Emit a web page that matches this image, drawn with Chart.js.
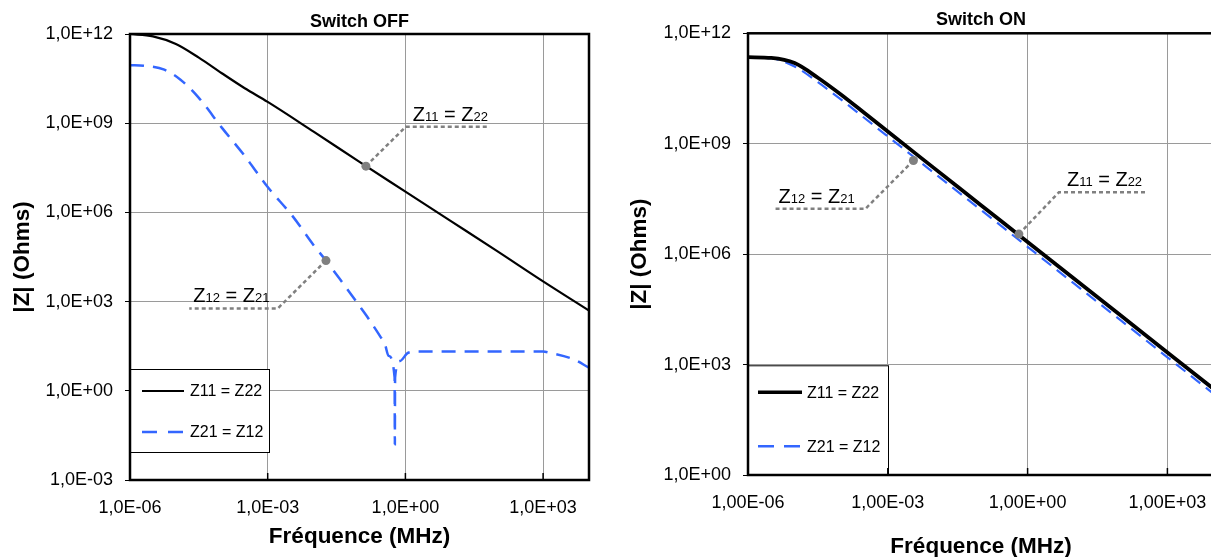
<!DOCTYPE html>
<html>
<head>
<meta charset="utf-8">
<script src="https://cdn.jsdelivr.net/npm/chart.js@4.4.0/dist/chart.umd.min.js"></script>
<style>
  html, body { margin: 0; padding: 0; background: #fff; overflow: hidden; width: 1211px; height: 557px; }
  canvas { position: absolute; top: 0; }
  #offChart { left: 0; }
  #onChart { left: 600px; }
</style>
</head>
<body>
<canvas id="offChart" width="605" height="570"></canvas>
<canvas id="onChart" width="630" height="570"></canvas>
<script>
const FONT = "'Liberation Sans', Arial, sans-serif";

// ---- Switch OFF ----
const offFreqZ11 = [1e-6, 3.16e-6, 1e-5, 3.16e-5, 1e-4, 3.16e-4, 1e-3, 1e-2, 1e-1, 1, 10, 100, 1000, 10000];
const offZ11     = [1e12, 8.3e11, 4.6e11, 1.6e11, 4.8e10, 1.5e10, 5.2e9, 5.2e8, 5.0e7, 5.0e6, 5.0e5, 5.0e4, 4.8e3, 5.0e2];
const offFreqZ21 = [1e-6, 2.0e-6, 5.6e-6, 1.26e-5, 3.16e-5, 1e-4, 3.16e-4, 1e-3, 3.55e-3, 1e-2, 1.86e-2, 3.8e-2,
                    0.1, 0.145, 0.28, 0.36, 0.43, 0.582, 0.589, 0.596, 0.76, 1.15, 2.0, 10, 100, 1000, 1410, 4570, 10000];
const offZ21     = [8.9e10, 8.5e10, 6.3e10, 2.9e10, 7.1e9, 7.1e8, 7.9e7, 7.1e6, 7.2e5, 7.9e4, 2.4e4, 5.5e3,
                    7.1e2, 3.2e2, 69, 36, 15, 2.8, 0.016, 2.8, 10, 19, 21, 21, 21, 21, 19, 11.5, 6.0];
const offXTicks  = [1e-6, 1e-3, 1, 1e3];
const offXLabels = ['1,0E-06', '1,0E-03', '1,0E+00', '1,0E+03'];
const offYTicks  = [1e-3, 1, 1e3, 1e6, 1e9, 1e12];
const offYLabels = ['1,0E-03', '1,0E+00', '1,0E+03', '1,0E+06', '1,0E+09', '1,0E+12'];
// callouts: point on curve, elbow, end of leader
const offCallZ11F = [0.138, 1.02, 69];
const offCallZ11Z = [3.6e7, 7.6e8, 7.6e8];
const offCallZ12F = [0.0186, 1.66e-3, 1.95e-5];
const offCallZ12Z = [2.4e4, 589, 589];

// ---- Switch ON ----
const onFreq = [1e-6, 3.16e-6, 1e-5, 3.16e-5, 1e-4, 3.16e-4, 1e-3, 1e-2, 1e-1, 1, 10, 100, 1000, 10000];
const onZ11  = [2.24e11, 2.14e11, 1.55e11, 6.2e10, 2.14e10, 6.8e9, 2.14e9, 2.14e8, 2.14e7, 2.14e6, 2.14e5, 2.14e4, 2.14e3, 2.14e2];
const onZ21  = [2.24e11, 2.1e11, 1.26e11, 4.7e10, 1.58e10, 5.0e9, 1.58e9, 1.58e8, 1.58e7, 1.58e6, 1.58e5, 1.58e4, 1.58e3, 1.58e2];
const onXTicks  = [1e-6, 1e-3, 1, 1e3];
const onXLabels = ['1,00E-06', '1,00E-03', '1,00E+00', '1,00E+03'];
const onYTicks  = [1, 1e3, 1e6, 1e9, 1e12];
const onYLabels = ['1,0E+00', '1,0E+03', '1,0E+06', '1,0E+09', '1,0E+12'];
const onCallZ12F = [3.55e-3, 3.3e-4, 3.9e-6];
const onCallZ12Z = [3.5e8, 1.7e7, 1.7e7];
const onCallZ11F = [0.65, 4.7, 339];
const onCallZ11Z = [3.5e6, 4.8e7, 4.8e7];

const BLUE = '#3366ff';
const GRAY = '#808080';

const pts = (xs, ys) => xs.map((x, i) => ({ x: x, y: ys[i] }));

function drawCalloutText(ctx, x, y, a, b) {
  const big = '20px ' + FONT, small = '13px ' + FONT;
  const parts = [['Z', big], [a, small], [' = ', big], ['Z', big], [b, small]];
  ctx.fillStyle = '#000';
  ctx.textAlign = 'left';
  ctx.textBaseline = 'alphabetic';
  for (const [t, f] of parts) {
    ctx.font = f;
    ctx.fillText(t, x, y);
    x += ctx.measureText(t).width;
  }
}

// legend box, frame, inner x ticks and callout labels
const framePlugin = {
  id: 'frame',
  afterDatasetsDraw(chart, args, o) {
    const ctx = chart.ctx, a = chart.chartArea;
    const xs = chart.scales.x, ys = chart.scales.y;
    ctx.save();

    // legend
    const L = o.legend;
    const bx = a.left + L.x, by = a.top + L.y;
    const bh = L.h || (a.bottom - by);
    ctx.fillStyle = '#fff';
    ctx.fillRect(bx, by, L.w, bh);
    ctx.strokeStyle = '#000';
    ctx.lineWidth = 1;
    ctx.strokeRect(bx + 0.5, by + 0.5, L.w, bh);
    const items = [
      { text: 'Z11 = Z22', color: '#000', width: L.w11, dash: [] },
      { text: 'Z21 = Z12', color: BLUE, width: 2.5, dash: L.dash }
    ];
    items.forEach((it, i) => {
      const y = by + L.rows[i];
      ctx.beginPath();
      ctx.setLineDash(it.dash);
      ctx.strokeStyle = it.color;
      ctx.lineWidth = it.width;
      ctx.moveTo(bx + L.s0, y);
      ctx.lineTo(bx + L.s1, y);
      ctx.stroke();
      ctx.setLineDash([]);
      ctx.fillStyle = '#000';
      ctx.font = '16px ' + FONT;
      ctx.textAlign = 'left';
      ctx.textBaseline = 'middle';
      ctx.fillText(it.text, bx + L.tx, y + 1);
    });

    // inward tick marks on the bottom axis
    ctx.strokeStyle = '#000';
    ctx.lineWidth = 1.5;
    xs.ticks.forEach(t => {
      const px = xs.getPixelForValue(t.value);
      if (px <= a.left + 2) return;
      ctx.beginPath();
      ctx.moveTo(px, a.bottom);
      ctx.lineTo(px, a.bottom - 7);
      ctx.stroke();
    });

    // plot frame
    ctx.lineWidth = 2.5;
    ctx.strokeRect(a.left, a.top, a.right - a.left, a.bottom - a.top);

    // callout labels above the horizontal part of each leader
    o.callouts.forEach(c => {
      const ds = chart.data.datasets[c.ds].data;
      const x0 = Math.min(xs.getPixelForValue(ds[1].x), xs.getPixelForValue(ds[2].x));
      const y0 = ys.getPixelForValue(ds[1].y);
      drawCalloutText(ctx, x0 + c.dx, y0 - 6, c.a, c.b);
    });
    ctx.restore();
  }
};

function buildChart(id, o) {
  const callDs = o.calls.map(c => ({
    data: pts(c.f, c.z),
    borderColor: GRAY,
    borderWidth: 2.5,
    borderDash: [4, 3],
    pointRadius: [4.5, 0, 0],
    pointBackgroundColor: GRAY,
    pointBorderWidth: 0,
    tension: 0,
    order: 0
  }));
  return new Chart(document.getElementById(id), {
    type: 'line',
    data: {
      datasets: [
        { data: pts(o.f11, o.z11), borderColor: '#000', borderWidth: o.w11, pointRadius: 0,
          cubicInterpolationMode: 'monotone', order: 1 },
        { data: pts(o.f21, o.z21), borderColor: BLUE, borderWidth: o.w21, borderDash: o.dash21, pointRadius: 0,
          cubicInterpolationMode: 'monotone', order: 2 }
      ].concat(callDs)
    },
    options: {
      responsive: false,
      animation: false,
      events: [],
      layout: { padding: { left: 0, right: o.padRight, top: 0, bottom: 0 } },
      scales: {
        x: {
          type: 'logarithmic', min: 1e-6, max: 1e4,
          afterBuildTicks: s => { s.ticks = o.xTicks.map(v => ({ value: v })); },
          afterFit: s => { s.height = o.xAxisH; },
          ticks: { callback: (v, i) => o.xLabels[i], font: { family: FONT, size: 18 }, color: '#000',
                   padding: 17, maxRotation: 0, autoSkip: false },
          grid: { color: '#9a9a9a', lineWidth: 1, drawTicks: false },
          border: { display: false },
          title: { display: true, text: 'Fréquence (MHz)', color: '#000',
                   font: { family: FONT, size: 22.5, weight: 'bold' }, padding: { top: 0, bottom: o.xTitlePad } }
        },
        y: {
          type: 'logarithmic', min: o.yTicks[0], max: 1e12,
          afterBuildTicks: s => { s.ticks = o.yTicks.map(v => ({ value: v })); },
          afterFit: s => { s.width = o.yAxisW; },
          ticks: { callback: (v, i) => o.yLabels[i], font: { family: FONT, size: 18 }, color: '#000',
                   padding: 12, autoSkip: false },
          grid: { color: '#9a9a9a', lineWidth: 1, tickLength: 5, tickColor: '#000' },
          border: { display: false },
          title: { display: true, text: '|Z| (Ohms)', color: '#000',
                   font: { family: FONT, size: 22.5, weight: 'bold' }, padding: { top: o.yTitlePad, bottom: 0 } }
        }
      },
      plugins: {
        legend: { display: false },
        tooltip: { enabled: false },
        title: { display: true, text: o.title, fullSize: false, color: '#000',
                 font: { family: FONT, size: 18, weight: 'bold' }, padding: { top: o.titleTop, bottom: o.titleBottom } },
        frame: { legend: o.legend, callouts: o.callouts }
      }
    },
    plugins: [framePlugin]
  });
}

buildChart('offChart', {
  title: 'Switch OFF', titleTop: 11.2, titleBottom: 1.2,
  f11: offFreqZ11, z11: offZ11, f21: offFreqZ21, z21: offZ21,
  w11: 2.2, w21: 2.5, dash21: [14, 9],
  xTicks: offXTicks, xLabels: offXLabels, yTicks: offYTicks, yLabels: offYLabels,
  padRight: 16, xAxisH: 90, yAxisW: 130, xTitlePad: 19.5, yTitlePad: 9.5,
  calls: [{ f: offCallZ11F, z: offCallZ11Z }, { f: offCallZ12F, z: offCallZ12Z }],
  callouts: [{ ds: 2, a: '11', b: '22', dx: 7 }, { ds: 3, a: '12', b: '21', dx: 4 }],
  legend: { x: 0, y: 335, w: 139, h: 83, rows: [22, 63], s0: 12, s1: 54, tx: 60, w11: 2, dash: [15, 11] }
});

buildChart('onChart', {
  title: 'Switch ON', titleTop: 9.2, titleBottom: 2.5,
  f11: onFreq, z11: onZ11, f21: onFreq, z21: onZ21,
  w11: 3.8, w21: 2.2, dash21: [12, 7],
  xTicks: onXTicks, xLabels: onXLabels, yTicks: onYTicks, yLabels: onYLabels,
  padRight: 16, xAxisH: 95, yAxisW: 148, xTitlePad: 9.5, yTitlePad: 26.5,
  calls: [{ f: onCallZ12F, z: onCallZ12Z }, { f: onCallZ11F, z: onCallZ11Z }],
  callouts: [{ ds: 2, a: '12', b: '21', dx: 3 }, { ds: 3, a: '11', b: '22', dx: 8 }],
  legend: { x: 0, y: 332, w: 140, h: 0, rows: [27, 81], s0: 10, s1: 54, tx: 59, w11: 3.5, dash: [16, 10] }
});
</script>
</body>
</html>
